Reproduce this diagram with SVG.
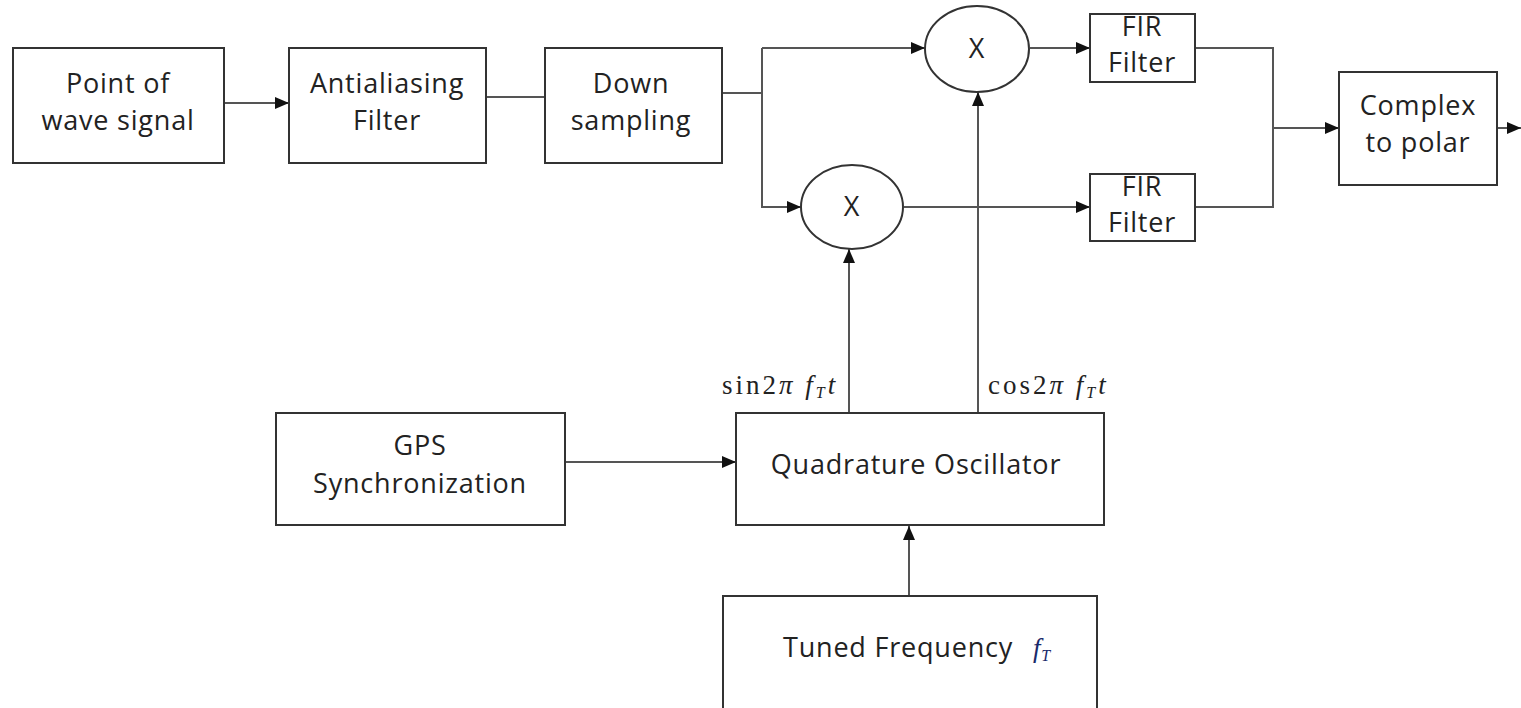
<svg xmlns="http://www.w3.org/2000/svg" width="1521" height="708" viewBox="0 0 1521 708">
<defs>
<marker id="ah" markerWidth="14" markerHeight="12" refX="14" refY="6" orient="auto" markerUnits="userSpaceOnUse">
<path d="M0,0 L14,6 L0,12 Z" fill="#111"/>
</marker>
<style>
.box{fill:#fff;stroke:#333;stroke-width:2}
.t{font-family:"Open Sans","Liberation Sans",sans-serif;font-size:27px;letter-spacing:0.8px;fill:#222;text-anchor:middle}
.c{fill:none;stroke:#555;stroke-width:2}
.m{font-family:"Liberation Serif",serif;font-size:27px;letter-spacing:3px;fill:#222}
</style>
</defs>
<rect width="1521" height="708" fill="#fff"/>
<g id="connectors">
<path class="c" d="M224,103 H289" marker-end="url(#ah)"/>
<path class="c" d="M486,97 H545"/>
<path class="c" d="M722,93 H762"/>
<path class="c" d="M762,48 V207 H801" marker-end="url(#ah)"/>
<path class="c" d="M762,48 H925" marker-end="url(#ah)"/>
<path class="c" d="M1030,48 H1090" marker-end="url(#ah)"/>
<path class="c" d="M904,207 H1090" marker-end="url(#ah)"/>
<path class="c" d="M1195,48 H1273 V207 H1195"/>
<path class="c" d="M1273,128 H1339" marker-end="url(#ah)"/>
<path class="c" d="M1497,128 H1521" marker-end="url(#ah)"/>
<path class="c" d="M978,413 V92" marker-end="url(#ah)"/>
<path class="c" d="M849,413 V249" marker-end="url(#ah)"/>
<path class="c" d="M565,462 H736" marker-end="url(#ah)"/>
<path class="c" d="M909,596 V526" marker-end="url(#ah)"/>
</g>
<g id="n-point"><rect class="box" x="13" y="48" width="211" height="115"/><text class="t" x="118" y="93">Point of</text><text class="t" x="118" y="130">wave signal</text></g>
<g id="n-anti"><rect class="box" x="289" y="48" width="197" height="115"/><text class="t" x="387" y="93">Antialiasing</text><text class="t" x="387" y="130">Filter</text></g>
<g id="n-down"><rect class="box" x="545" y="48" width="177" height="115"/><text class="t" x="631" y="93">Down</text><text class="t" x="631" y="130">sampling</text></g>
<g id="n-mul1"><ellipse class="box" cx="977" cy="49" rx="52" ry="43"/><text class="t" x="977" y="58">X</text></g>
<g id="n-mul2"><ellipse class="box" cx="852" cy="207" rx="51" ry="42"/><text class="t" x="852" y="216">X</text></g>
<g id="n-fir1"><rect class="box" x="1090" y="14" width="105" height="68"/><text class="t" x="1142" y="36">FIR</text><text class="t" x="1142" y="72">Filter</text></g>
<g id="n-fir2"><rect class="box" x="1090" y="174" width="105" height="67"/><text class="t" x="1142" y="196">FIR</text><text class="t" x="1142" y="232">Filter</text></g>
<g id="n-polar"><rect class="box" x="1339" y="72" width="158" height="113"/><text class="t" x="1418" y="115">Complex</text><text class="t" x="1418" y="152">to polar</text></g>
<g id="n-gps"><rect class="box" x="276" y="413" width="289" height="112"/><text class="t" x="420" y="455">GPS</text><text class="t" x="420" y="493">Synchronization</text></g>
<g id="n-quad"><rect class="box" x="736" y="413" width="368" height="112"/><text class="t" x="916" y="474">Quadrature Oscillator</text></g>
<g id="n-tuned"><rect class="box" x="723" y="596" width="374" height="120"/><text class="t" x="783" y="657" style="text-anchor:start">Tuned Frequency <tspan dx="12" font-family="Liberation Serif,serif" font-style="italic" fill="#1a2a6a">f<tspan font-size="16" dy="4">T</tspan></tspan></text></g>
<g id="labels">
<text class="m" x="722" y="394">sin2<tspan font-style="italic">π</tspan> <tspan font-style="italic">f</tspan><tspan font-style="italic" font-size="16" dy="4">T</tspan><tspan font-style="italic" dy="-4">t</tspan></text>
<text class="m" x="988" y="394">cos2<tspan font-style="italic">π</tspan> <tspan font-style="italic">f</tspan><tspan font-style="italic" font-size="16" dy="4">T</tspan><tspan font-style="italic" dy="-4">t</tspan></text>
</g>
</svg>
